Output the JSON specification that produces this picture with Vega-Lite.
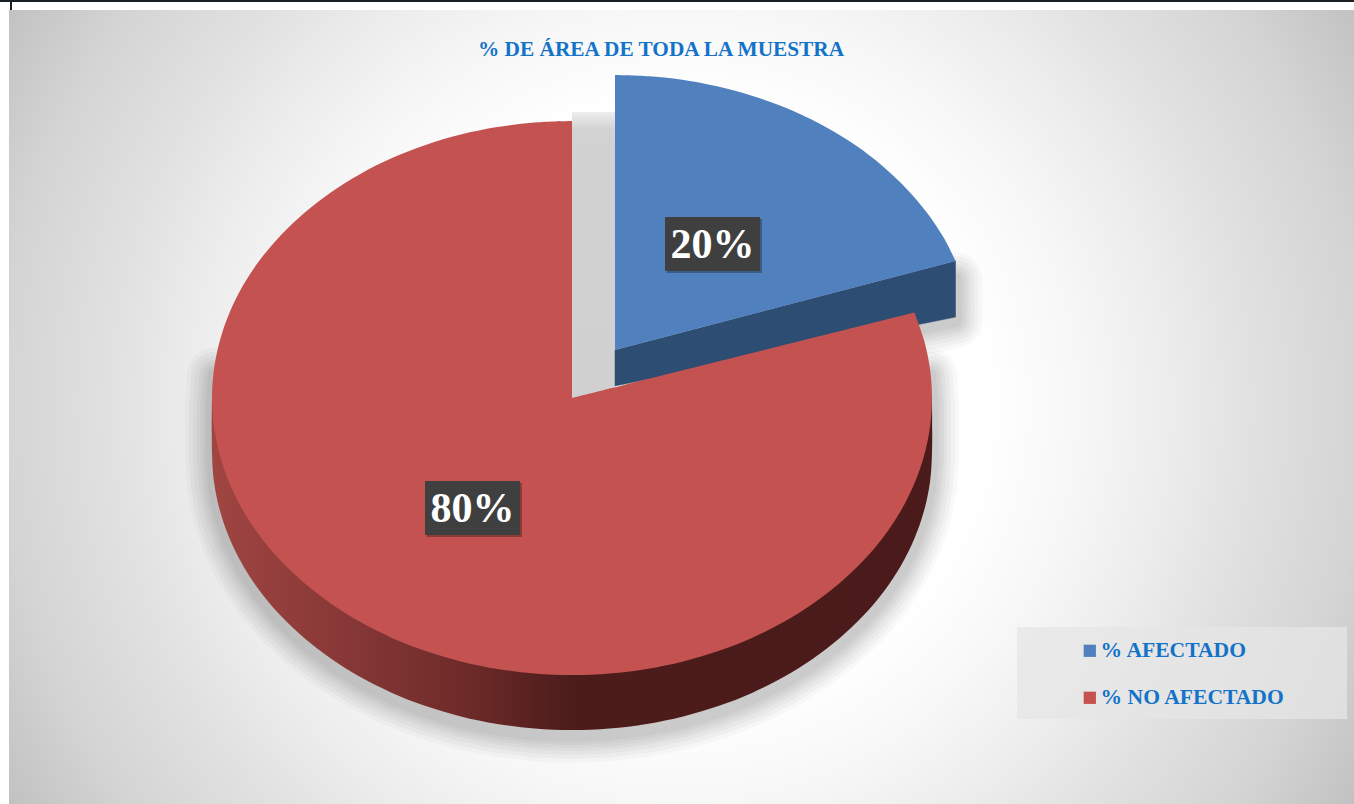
{"$schema":"https://vega.github.io/schema/vega-lite/v6.json","width":1354,"height":804,"padding":0,"autosize":"none","background":"#ffffff","view":{"stroke":null},
"title":{"text":"% DE ÁREA DE TODA LA MUESTRA","anchor":"start","frame":"group","dx":478,"dy":77,"offset":0,"baseline":"alphabetic","font":"Liberation Serif","fontSize":21.3,"fontWeight":"bold","color":"#1273c9"},
"datasets":{
"red_top":[{"category":"% NO AFECTADO","x":572,"y":398},{"category":"% NO AFECTADO","x":572,"y":398},{"category":"% NO AFECTADO","x":914.4,"y":312.4},{"category":"% NO AFECTADO","x":914.4,"y":312.4},{"category":"% NO AFECTADO","x":924.1,"y":340.4},{"category":"% NO AFECTADO","x":930,"y":369.1},{"category":"% NO AFECTADO","x":932,"y":398},{"category":"% NO AFECTADO","x":930,"y":426.9},{"category":"% NO AFECTADO","x":924.1,"y":455.6},{"category":"% NO AFECTADO","x":914.4,"y":483.6},{"category":"% NO AFECTADO","x":900.9,"y":510.7},{"category":"% NO AFECTADO","x":883.8,"y":536.5},{"category":"% NO AFECTADO","x":863.2,"y":560.8},{"category":"% NO AFECTADO","x":839.5,"y":583.3},{"category":"% NO AFECTADO","x":812.9,"y":603.8},{"category":"% NO AFECTADO","x":783.6,"y":622.1},{"category":"% NO AFECTADO","x":752,"y":637.9},{"category":"% NO AFECTADO","x":718.4,"y":651},{"category":"% NO AFECTADO","x":683.2,"y":661.4},{"category":"% NO AFECTADO","x":646.8,"y":668.9},{"category":"% NO AFECTADO","x":609.6,"y":673.5},{"category":"% NO AFECTADO","x":572,"y":675},{"category":"% NO AFECTADO","x":534.4,"y":673.5},{"category":"% NO AFECTADO","x":497.2,"y":668.9},{"category":"% NO AFECTADO","x":460.8,"y":661.4},{"category":"% NO AFECTADO","x":425.6,"y":651},{"category":"% NO AFECTADO","x":392,"y":637.9},{"category":"% NO AFECTADO","x":360.4,"y":622.1},{"category":"% NO AFECTADO","x":331.1,"y":603.8},{"category":"% NO AFECTADO","x":304.5,"y":583.3},{"category":"% NO AFECTADO","x":280.8,"y":560.8},{"category":"% NO AFECTADO","x":260.2,"y":536.5},{"category":"% NO AFECTADO","x":243.1,"y":510.7},{"category":"% NO AFECTADO","x":229.6,"y":483.6},{"category":"% NO AFECTADO","x":219.9,"y":455.6},{"category":"% NO AFECTADO","x":214,"y":426.9},{"category":"% NO AFECTADO","x":212,"y":398},{"category":"% NO AFECTADO","x":214,"y":369.1},{"category":"% NO AFECTADO","x":219.9,"y":340.4},{"category":"% NO AFECTADO","x":229.6,"y":312.4},{"category":"% NO AFECTADO","x":243.1,"y":285.3},{"category":"% NO AFECTADO","x":260.2,"y":259.5},{"category":"% NO AFECTADO","x":280.8,"y":235.2},{"category":"% NO AFECTADO","x":304.5,"y":212.7},{"category":"% NO AFECTADO","x":331.1,"y":192.2},{"category":"% NO AFECTADO","x":360.4,"y":173.9},{"category":"% NO AFECTADO","x":392,"y":158.1},{"category":"% NO AFECTADO","x":425.6,"y":145},{"category":"% NO AFECTADO","x":460.8,"y":134.6},{"category":"% NO AFECTADO","x":497.2,"y":127.1},{"category":"% NO AFECTADO","x":534.4,"y":122.5},{"category":"% NO AFECTADO","x":572,"y":121},{"category":"% NO AFECTADO","x":572,"y":121},{"category":"% NO AFECTADO","x":572,"y":398},{"category":"% NO AFECTADO","x":572,"y":398}],
"blue_top":[{"category":"% AFECTADO","x":615,"y":350},{"category":"% AFECTADO","x":615,"y":350},{"category":"% AFECTADO","x":615,"y":75},{"category":"% AFECTADO","x":615,"y":75},{"category":"% AFECTADO","x":652.6,"y":76.5},{"category":"% AFECTADO","x":689.8,"y":81},{"category":"% AFECTADO","x":726.2,"y":88.5},{"category":"% AFECTADO","x":761.4,"y":98.8},{"category":"% AFECTADO","x":795,"y":111.8},{"category":"% AFECTADO","x":826.6,"y":127.5},{"category":"% AFECTADO","x":855.9,"y":145.6},{"category":"% AFECTADO","x":882.5,"y":166},{"category":"% AFECTADO","x":906.2,"y":188.4},{"category":"% AFECTADO","x":926.8,"y":212.5},{"category":"% AFECTADO","x":943.9,"y":238.1},{"category":"% AFECTADO","x":955.5,"y":261},{"category":"% AFECTADO","x":955.5,"y":261},{"category":"% AFECTADO","x":615,"y":350},{"category":"% AFECTADO","x":615,"y":350}],
"red_wall":[{"x":932,"y":398},{"x":932,"y":398},{"x":932,"y":453},{"x":930,"y":481.9},{"x":924.1,"y":510.6},{"x":914.4,"y":538.6},{"x":900.9,"y":565.7},{"x":883.8,"y":591.5},{"x":863.2,"y":615.8},{"x":839.5,"y":638.3},{"x":812.9,"y":658.8},{"x":783.6,"y":677.1},{"x":752,"y":692.9},{"x":718.4,"y":706},{"x":683.2,"y":716.4},{"x":646.8,"y":723.9},{"x":609.6,"y":728.5},{"x":572,"y":730},{"x":534.4,"y":728.5},{"x":497.2,"y":723.9},{"x":460.8,"y":716.4},{"x":425.6,"y":706},{"x":392,"y":692.9},{"x":360.4,"y":677.1},{"x":331.1,"y":658.8},{"x":304.5,"y":638.3},{"x":280.8,"y":615.8},{"x":260.2,"y":591.5},{"x":243.1,"y":565.7},{"x":229.6,"y":538.6},{"x":219.9,"y":510.6},{"x":214,"y":481.9},{"x":212,"y":453},{"x":212,"y":398},{"x":212,"y":398}],
"red_shadow":[{"x":930,"y":369.1},{"x":932,"y":398},{"x":932,"y":453},{"x":930,"y":481.9},{"x":924.1,"y":510.6},{"x":914.4,"y":538.6},{"x":900.9,"y":565.7},{"x":883.8,"y":591.5},{"x":863.2,"y":615.8},{"x":839.5,"y":638.3},{"x":812.9,"y":658.8},{"x":783.6,"y":677.1},{"x":752,"y":692.9},{"x":718.4,"y":706},{"x":683.2,"y":716.4},{"x":646.8,"y":723.9},{"x":609.6,"y":728.5},{"x":572,"y":730},{"x":534.4,"y":728.5},{"x":497.2,"y":723.9},{"x":460.8,"y":716.4},{"x":425.6,"y":706},{"x":392,"y":692.9},{"x":360.4,"y":677.1},{"x":331.1,"y":658.8},{"x":304.5,"y":638.3},{"x":280.8,"y":615.8},{"x":260.2,"y":591.5},{"x":243.1,"y":565.7},{"x":229.6,"y":538.6},{"x":219.9,"y":510.6},{"x":214,"y":481.9},{"x":212,"y":453},{"x":212,"y":398},{"x":214,"y":369.1}],
"blue_wall":[{"x":615,"y":350},{"x":955.5,"y":261},{"x":955.5,"y":317},{"x":615,"y":386},{"x":615,"y":350}],
"blue_shadow":[{"x":955.5,"y":275},{"x":955.5,"y":317},{"x":880,"y":333}],
"gap":[{"x":572,"x2":615,"y":112,"y2":398}],
"frame":[{"part":"plot","x":9,"x2":1354,"y":-267.5,"y2":1077.5}],
"topstrip":[{"x":0,"x2":1354,"y":0,"y2":10}],
"rules":[{"x":0,"x2":1354,"y":0,"y2":2},{"x":10,"x2":12,"y":0,"y2":10}],
"legendbox":[{"x":1017,"x2":1347,"y":627,"y2":719}],
"labels":[{"category":"% AFECTADO","label":"20%","cx":712.5,"cy":245,"x":665,"x2":760,"y":217,"y2":271},{"category":"% NO AFECTADO","label":"80%","cx":472.5,"cy":509,"x":425,"x2":520,"y":481,"y2":535}],
"labelshadow":[{"x":667,"x2":762,"y":219,"y2":273},{"x":427,"x2":522,"y":483,"y2":537}]
},
"encoding":{
"x":{"field":"x","type":"quantitative","scale":{"domain":[0,1354],"nice":false,"zero":false},"axis":null},
"y":{"field":"y","type":"quantitative","scale":{"domain":[804,0],"nice":false,"zero":false},"axis":null}
},
"layer":[
{"data":{"name":"frame"},"mark":{"type":"rect","clip":true,"color":{"gradient":"radial","x1":0.5,"y1":0.5,"r1":0,"x2":0.5,"y2":0.5,"r2":0.587,"stops":[{"offset":0,"color":"#ffffff"},{"offset":0.38,"color":"#ffffff"},{"offset":0.5,"color":"#f7f7f7"},{"offset":0.62,"color":"#ececec"},{"offset":0.72,"color":"#e1e1e1"},{"offset":0.86,"color":"#d4d4d4"},{"offset":1,"color":"#c0c0c0"}]}},"encoding":{"x2":{"field":"x2"},"y2":{"field":"y2"}}},
{"data":{"name":"topstrip"},"mark":{"type":"rect","color":"#ffffff"},"encoding":{"x2":{"field":"x2"},"y2":{"field":"y2"}}},
{"data":{"name":"rules"},"mark":{"type":"rect","color":"#1a1f26"},"encoding":{"x2":{"field":"x2"},"y2":{"field":"y2"}}},
{"data":{"name":"legendbox"},"mark":{"type":"rect","color":"#e6e6e6","opacity":0.75},"encoding":{"x2":{"field":"x2"},"y2":{"field":"y2"}}},
{"data":{"name":"red_shadow"},"mark":{"type":"line","stroke":"#000000","strokeWidth":54,"opacity":0.025,"strokeJoin":"round","strokeCap":"round","yOffset":6},"encoding":{"order":{"value":null}}},
{"data":{"name":"red_shadow"},"mark":{"type":"line","stroke":"#000000","strokeWidth":46,"opacity":0.03,"strokeJoin":"round","strokeCap":"round","yOffset":6},"encoding":{"order":{"value":null}}},
{"data":{"name":"red_shadow"},"mark":{"type":"line","stroke":"#000000","strokeWidth":38,"opacity":0.03,"strokeJoin":"round","strokeCap":"round","yOffset":6},"encoding":{"order":{"value":null}}},
{"data":{"name":"red_shadow"},"mark":{"type":"line","stroke":"#000000","strokeWidth":30,"opacity":0.03,"strokeJoin":"round","strokeCap":"round","yOffset":6},"encoding":{"order":{"value":null}}},
{"data":{"name":"red_shadow"},"mark":{"type":"line","stroke":"#000000","strokeWidth":24,"opacity":0.03,"strokeJoin":"round","strokeCap":"round","yOffset":6},"encoding":{"order":{"value":null}}},
{"data":{"name":"red_shadow"},"mark":{"type":"line","stroke":"#000000","strokeWidth":18,"opacity":0.03,"strokeJoin":"round","strokeCap":"round","yOffset":6},"encoding":{"order":{"value":null}}},
{"data":{"name":"red_shadow"},"mark":{"type":"line","stroke":"#000000","strokeWidth":12,"opacity":0.03,"strokeJoin":"round","strokeCap":"round","yOffset":6},"encoding":{"order":{"value":null}}},
{"data":{"name":"blue_shadow"},"mark":{"type":"line","stroke":"#000000","strokeWidth":54,"opacity":0.025,"strokeJoin":"round","strokeCap":"round","yOffset":4},"encoding":{"order":{"value":null}}},
{"data":{"name":"blue_shadow"},"mark":{"type":"line","stroke":"#000000","strokeWidth":46,"opacity":0.03,"strokeJoin":"round","strokeCap":"round","yOffset":4},"encoding":{"order":{"value":null}}},
{"data":{"name":"blue_shadow"},"mark":{"type":"line","stroke":"#000000","strokeWidth":38,"opacity":0.03,"strokeJoin":"round","strokeCap":"round","yOffset":4},"encoding":{"order":{"value":null}}},
{"data":{"name":"blue_shadow"},"mark":{"type":"line","stroke":"#000000","strokeWidth":30,"opacity":0.03,"strokeJoin":"round","strokeCap":"round","yOffset":4},"encoding":{"order":{"value":null}}},
{"data":{"name":"blue_shadow"},"mark":{"type":"line","stroke":"#000000","strokeWidth":24,"opacity":0.03,"strokeJoin":"round","strokeCap":"round","yOffset":4},"encoding":{"order":{"value":null}}},
{"data":{"name":"blue_shadow"},"mark":{"type":"line","stroke":"#000000","strokeWidth":18,"opacity":0.03,"strokeJoin":"round","strokeCap":"round","yOffset":4},"encoding":{"order":{"value":null}}},
{"data":{"name":"blue_shadow"},"mark":{"type":"line","stroke":"#000000","strokeWidth":12,"opacity":0.03,"strokeJoin":"round","strokeCap":"round","yOffset":4},"encoding":{"order":{"value":null}}},
{"data":{"name":"gap"},"mark":{"type":"rect","color":{"gradient":"linear","x1":0,"y1":0,"x2":0,"y2":1,"stops":[{"offset":0,"color":"#eeeeee"},{"offset":0.06,"color":"#d2d2d2"},{"offset":1,"color":"#d0d0d0"}]}},"encoding":{"x2":{"field":"x2"},"y2":{"field":"y2"}}},
{"data":{"name":"blue_wall"},"mark":{"type":"line","fill":"#2d4d73","stroke":"#2d4d73","strokeWidth":0.5},"encoding":{"order":{"value":null}}},
{"data":{"name":"blue_top"},"mark":{"type":"line","strokeWidth":0,"interpolate":"catmull-rom"},"encoding":{"order":{"value":null},"fill":{"field":"category","type":"nominal","scale":{"domain":["% AFECTADO","% NO AFECTADO"],"range":["#5080bd","#c35250"]},"legend":{"title":null,"orient":"none","legendX":1079,"legendY":640,"symbolType":"square","symbolSize":150,"symbolStrokeWidth":0,"labelFont":"Liberation Serif","labelFontSize":21.6,"labelFontWeight":"bold","labelColor":"#1273c9","labelOffset":0,"rowPadding":24,"labelLimit":300}}}},
{"data":{"name":"red_wall"},"mark":{"type":"line","strokeWidth":0,"interpolate":"catmull-rom","fill":{"gradient":"linear","x1":0,"y1":0,"x2":1,"y2":0,"stops":[{"offset":0,"color":"#a04542"},{"offset":0.2,"color":"#853735"},{"offset":0.35,"color":"#6e2b29"},{"offset":0.5,"color":"#4c1c1b"},{"offset":1,"color":"#4a1b1a"}]}},"encoding":{"order":{"value":null}}},
{"data":{"name":"red_top"},"mark":{"type":"line","strokeWidth":0,"interpolate":"catmull-rom"},"encoding":{"order":{"value":null},"fill":{"field":"category","type":"nominal"}}},
{"data":{"name":"labelshadow"},"mark":{"type":"rect","color":"#000000","opacity":0.28},"encoding":{"x2":{"field":"x2"},"y2":{"field":"y2"}}},
{"data":{"name":"labels"},"mark":{"type":"rect","color":"#3f3f3f"},"encoding":{"x2":{"field":"x2"},"y2":{"field":"y2"}}},
{"data":{"name":"labels"},"mark":{"type":"text","font":"Liberation Serif","fontSize":42,"fontWeight":"bold","color":"#ffffff","align":"center","baseline":"middle"},"encoding":{"x":{"field":"cx","type":"quantitative"},"y":{"field":"cy","type":"quantitative"},"text":{"field":"label"}}}
]}
